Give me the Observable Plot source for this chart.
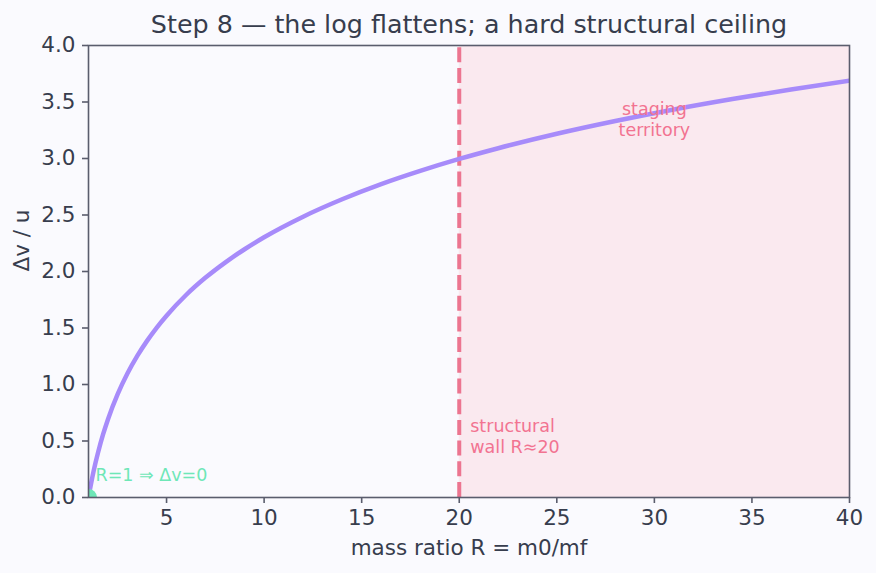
<!DOCTYPE html>
<html>
<head>
<meta charset="utf-8">
<script src="https://cdn.jsdelivr.net/npm/d3@7"></script>
<script src="https://cdn.jsdelivr.net/npm/@observablehq/plot@0.6"></script>
<style>
  html, body { margin: 0; padding: 0; background: #fafafe; }
  #chart svg { display: block; }
</style>
</head>
<body>
<div id="chart"></div>
<script>
// Rocket equation: Δv/u against mass ratio R
const massRatio = [1, 1.05, 1.1, 1.2, 1.35, 1.5, 1.75, 2, 2.5, 3, 3.5, 4, 4.5, 5, 6, 7, 8, 9, 10, 12, 14, 16, 18, 20, 22, 25, 28, 31, 34, 37, 40];
const deltaV    = [0, 0.049, 0.095, 0.182, 0.300, 0.405, 0.560, 0.693, 0.916, 1.099, 1.253, 1.386, 1.504, 1.609, 1.792, 1.946, 2.079, 2.197, 2.303, 2.485, 2.639, 2.773, 2.890, 2.996, 3.091, 3.219, 3.332, 3.434, 3.526, 3.611, 3.689];

const xTicks = [5, 10, 15, 20, 25, 30, 35, 40];
const yTicks = [0, 0.5, 1, 1.5, 2, 2.5, 3, 3.5, 4];

const wallR = 20;          // structural limit on a single stage
const origin = [{r: 1, dv: 0}];

const titleText = "Step 8 — the log flattens; a hard structural ceiling";
const xLabel = "mass ratio R = m0/mf";
const yLabel = "Δv / u";
const originNote = "R=1 ⇒ Δv=0";
const wallNote = "structural\nwall R≈20";
const stagingNote = "staging\nterritory";

const curve = massRatio.map((r, i) => ({r, dv: deltaV[i]}));

const ink = "#373d4d";
const spine = "#5a5d6d";
const rose = "#f27391";
const font = "DejaVu Sans";
const labelSize = 21.5;

const chart = Plot.plot({
  width: 876,
  height: 573,
  marginLeft: 88,
  marginRight: 27,
  marginTop: 45,
  marginBottom: 76,
  style: {background: "#fafafe", fontFamily: font, fontSize: labelSize + "px", color: ink},
  x: {domain: [1, 40]},
  y: {domain: [0, 4]},
  marks: [
    // staging territory beyond the wall
    Plot.rect([{x1: wallR, x2: 40}], {x1: "x1", x2: "x2", fill: "#fb7185", fillOpacity: 0.12}),
    Plot.ruleX([wallR], {x: d => d, y1: 0, y2: 4, stroke: "#ec7590", strokeWidth: 4, strokeDasharray: "15,5.7"}),
    Plot.line(curve, {x: "r", y: "dv", stroke: "#a78bfa", strokeWidth: 4.5, curve: "monotone-x", clip: true}),
    Plot.dot(origin, {x: "r", y: "dv", r: 8.5, fill: "#6ee7b7", clip: true}),
    Plot.text([originNote], {x: 1, y: 0, text: d => d, textAnchor: "start", dx: 7, dy: -22, fill: "#6ee7b7", fontSize: 17.5}),
    Plot.text([wallNote], {x: wallR, y: 0.55, text: d => d, textAnchor: "start", lineAnchor: "middle", dx: 11, fill: rose, fontSize: 17.5, lineHeight: 1.2}),
    Plot.text([stagingNote], {x: 30, y: 3.35, text: d => d, textAnchor: "middle", lineAnchor: "middle", fill: rose, fontSize: 17.5, lineHeight: 1.2}),
    Plot.axisX({ticks: xTicks, tickSize: 6, tickPadding: 6, label: null, stroke: spine, strokeWidth: 1.6, fill: ink, fontSize: labelSize}),
    Plot.axisY({ticks: yTicks, tickFormat: d3.format(".1f"), tickSize: 6, tickPadding: 7, label: null, stroke: spine, strokeWidth: 1.6, fill: ink, fontSize: labelSize}),
    Plot.frame({stroke: spine, strokeWidth: 1.6}),
    Plot.text([titleText], {frameAnchor: "top", text: d => d, lineAnchor: "middle", dy: -21, fontSize: 25.4, fill: ink}),
    Plot.text([xLabel], {frameAnchor: "bottom", text: d => d, lineAnchor: "middle", dy: 51, fontSize: labelSize, fill: ink}),
    Plot.text([yLabel], {frameAnchor: "left", text: d => d, rotate: -90, lineAnchor: "middle", dx: -66, fontSize: labelSize, fill: ink})
  ]
});

document.getElementById("chart").appendChild(chart);
</script>
</body>
</html>
